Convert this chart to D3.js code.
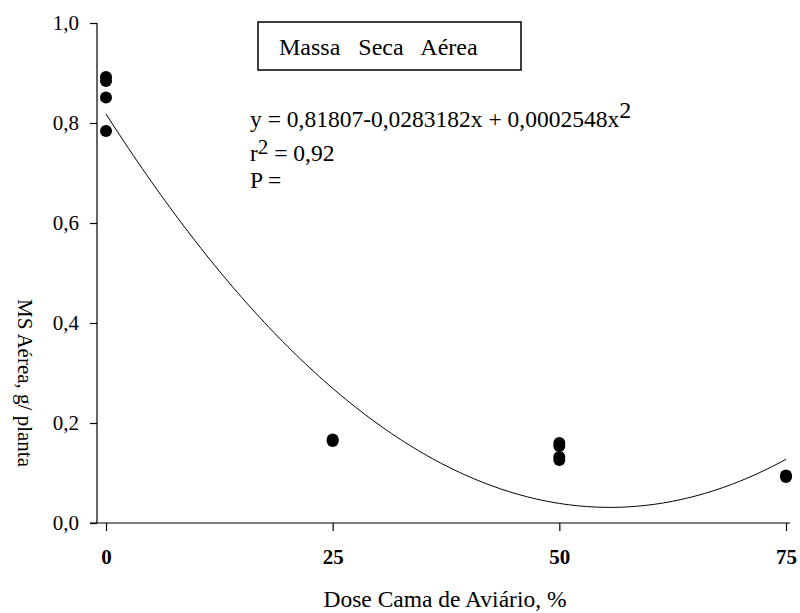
<!DOCTYPE html>
<html>
<head>
<meta charset="utf-8">
<script src="https://cdn.jsdelivr.net/npm/d3@7"></script>
<style>
  html, body { margin: 0; padding: 0; background: #fff; }
  svg { display: block; }
</style>
</head>
<body>
<svg id="chart" width="800" height="613"></svg>
<script>
// ---- data ----
const doses  = [0, 0, 0, 0, 25, 25, 50, 50, 50, 50, 75, 75];
const values = [0.892, 0.884, 0.851, 0.784, 0.167, 0.164, 0.160, 0.154, 0.132, 0.126, 0.095, 0.092];
const xTicks = [0, 25, 50, 75];
const yTicks = [0, 0.2, 0.4, 0.6, 0.8, 1.0];
const coef = [0.81807, -0.0283182, 0.0002548]; // regression shown on chart
const titleText = "Massa Seca Aérea";
const xTitle = "Dose Cama de Aviário, %";
const yTitle = "MS Aérea, g/ planta";

const FONT = "Liberation Serif, Tinos, Times New Roman, Noto Serif, DejaVu Serif, serif";
const svg = d3.select("#chart");
const x = d3.scaleLinear().domain([0, 75]).range([106, 786]);
const y = d3.scaleLinear().domain([0, 1]).range([523, 23]);
const fmt = d => d3.format(".1f")(d).replace(".", ",");

// y axis
const yAxis = svg.append("g").attr("transform", "translate(97,0)")
  .call(d3.axisLeft(y).tickValues(yTicks).tickFormat(fmt).tickSize(7).tickPadding(11));
yAxis.attr("font-family", FONT);
yAxis.select(".domain").attr("d", `M0,${y(1)}V${y(0)}`);
yAxis.selectAll("text").attr("font-size", 21).style("font-family", FONT).attr("fill", "#000");

// x axis
const xAxis = svg.append("g").attr("transform", "translate(0,523)")
  .call(d3.axisBottom(x).tickValues(xTicks).tickFormat(d3.format("d")).tickSize(8).tickPadding(18));
xAxis.attr("font-family", FONT);
xAxis.select(".domain").attr("d", "M90,0H790");
xAxis.selectAll("text").attr("font-size", 21).attr("font-weight", "bold").style("font-family", FONT).attr("fill", "#000");
svg.selectAll(".domain, .tick line").attr("stroke", "#000").attr("stroke-width", 1.2);

// regression curve
const curveX = d3.range(0, 75.01, 0.5);
const line = d3.line().x(d => x(d)).y(d => y(coef[0] + coef[1] * d + coef[2] * d * d));
svg.append("path").datum(curveX).attr("d", line)
  .attr("fill", "none").attr("stroke", "#000").attr("stroke-width", 1);

// points
svg.append("g").selectAll("circle").data(values).join("circle")
  .attr("cx", (d, i) => x(doses[i])).attr("cy", d => y(d)).attr("r", 6).attr("fill", "#000");

// title box
svg.append("rect").attr("x", 258).attr("y", 22).attr("width", 263).attr("height", 48)
  .attr("fill", "none").attr("stroke", "#000").attr("stroke-width", 1.5);
svg.append("text").attr("x", 279).attr("y", 55).attr("font-size", 24).style("font-family", FONT)
  .attr("word-spacing", 12).text(titleText);

// equation
const eq = svg.append("text").attr("x", 250).attr("y", 127).attr("font-size", 23.5).style("font-family", FONT);
eq.append("tspan").text("y = 0,81807-0,0283182x + 0,0002548x");
eq.append("tspan").attr("dy", -9).attr("font-size", 24).text("2");
const r2 = svg.append("text").attr("x", 250).attr("y", 161).attr("font-size", 23.5).style("font-family", FONT);
r2.append("tspan").text("r");
r2.append("tspan").attr("dy", -7).attr("font-size", 21).text("2");
r2.append("tspan").attr("dy", 7).text(" = 0,92");
svg.append("text").attr("x", 250).attr("y", 188).attr("font-size", 23.5).style("font-family", FONT).text("P =");

// axis titles
svg.append("text").attr("x", 445).attr("y", 607).attr("text-anchor", "middle")
  .attr("font-size", 23.5).style("font-family", FONT).text(xTitle);
svg.append("text").attr("transform", "translate(18,383) rotate(90)").attr("text-anchor", "middle")
  .attr("font-size", 21).style("font-family", FONT).text(yTitle);
</script>
</body>
</html>
